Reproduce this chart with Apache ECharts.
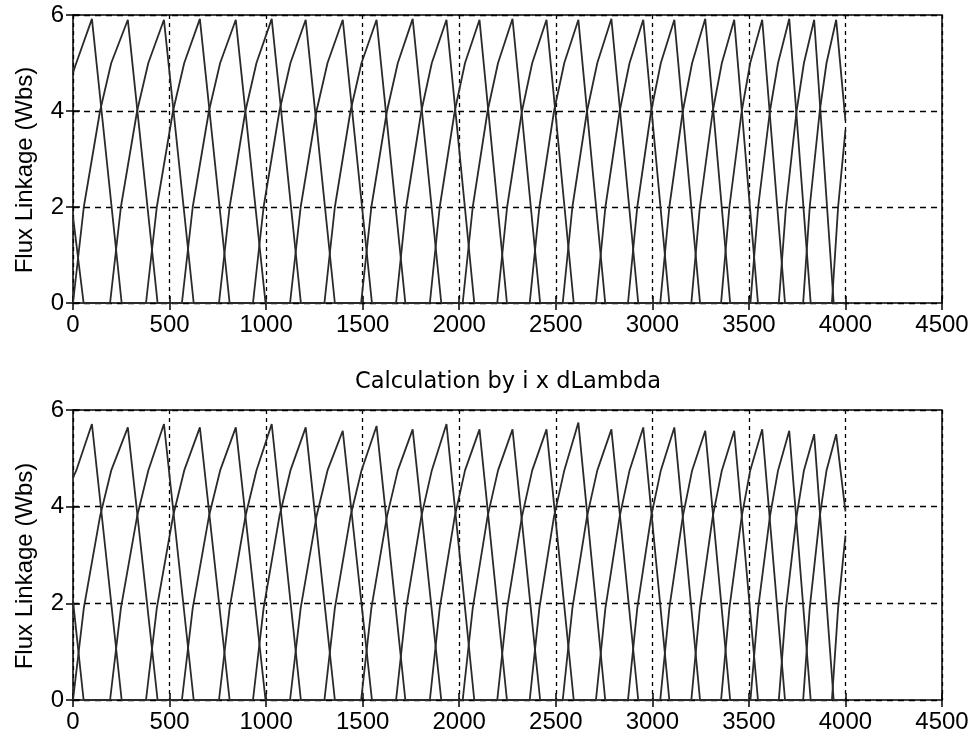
<!DOCTYPE html>
<html>
<head>
<meta charset="utf-8">
<script src="https://cdn.jsdelivr.net/npm/echarts@6/dist/echarts.min.js"></script>
<style>
  html, body { margin: 0; padding: 0; background: #fff; }
  #chart { width: 974px; height: 740px; }
</style>
</head>
<body>
<div id="chart"></div>
<script>
// Phase flux-linkage pulses (three phases, pulses alternate A, B, C).
// Index 0 is the tail of a C pulse that ends just after t = 0.
const riseStart = [-367, -181, 0, 192, 378, 564, 756, 932, 1124, 1302, 1492, 1673, 1848, 2018, 2197, 2365, 2536, 2708, 2874, 3041, 3202, 3356, 3508, 3655, 3781, 3930];
const riseAt2   = [-311, -125, 56, 248, 434, 620, 811, 987, 1179, 1356, 1545, 1725, 1899, 2070, 2248, 2415, 2586, 2757, 2922, 3088, 3246, 3399, 3548, 3692, 3815, 3962];
const riseAt4   = [-227, -41, 140, 332, 518, 704, 893, 1069, 1261, 1437, 1626, 1804, 1977, 2147, 2325, 2491, 2662, 2831, 2994, 3158, 3313, 3463, 3609, 3747, 3867, 4010];
const riseAt5   = [-169, 17, 198, 390, 576, 762, 950, 1126, 1318, 1494, 1682, 1858, 2030, 2201, 2378, 2544, 2715, 2882, 3044, 3206, 3360, 3507, 3651, 3785, 3902, 4040];
const peakTime  = [-88, 98, 284, 471, 657, 843, 1029, 1205, 1397, 1572, 1759, 1934, 2105, 2276, 2452, 2617, 2788, 2953, 3114, 3274, 3424, 3569, 3709, 3838, 3952, 4085];
const fallEnd   = [55, 252, 438, 625, 811, 997, 1180, 1356, 1548, 1721, 1907, 2078, 2247, 2419, 2593, 2756, 2927, 3088, 3247, 3403, 3547, 3687, 3820, 3939, 4060, 4180];
const pulsePhase = ['C', 'A', 'B', 'C', 'A', 'B', 'C', 'A', 'B', 'C', 'A', 'B', 'C', 'A', 'B', 'C', 'A', 'B', 'C', 'A', 'B', 'C', 'A', 'B', 'C', 'A'];

// Peak flux of every pulse
const peakTop    = [5.9, 5.92, 5.9, 5.9, 5.92, 5.9, 5.92, 5.9, 5.9, 5.9, 5.92, 5.9, 5.9, 5.92, 5.9, 5.9, 5.92, 5.9, 5.9, 5.92, 5.9, 5.9, 5.92, 5.9, 5.9, 5.9];
const peakBottom = [5.7, 5.71, 5.64, 5.71, 5.64, 5.64, 5.71, 5.64, 5.57, 5.67, 5.6, 5.71, 5.6, 5.6, 5.6, 5.74, 5.6, 5.64, 5.64, 5.57, 5.57, 5.6, 5.57, 5.5, 5.5, 5.5];

// Flux levels reached at riseAt2 / riseAt4 / riseAt5
const riseLevelsTop    = [2.0, 4.0, 5.0];
const riseLevelsBottom = [1.9, 3.8, 4.75];

// Flux of each phase at the first and last sample
const phases = ['A', 'B', 'C'];
const startTop    = [4.8, 0, 1.8];
const startBottom = [4.6, 0, 2.05];
const endTop      = [3.6, 0, 3.8];
const endBottom   = [3.4, 0, 3.9];
const tFirst = 0;
const tLast = 4000;

// Axis ticks
const xTicks = { min: 0, max: 4500, step: 500 };
const yTicks = { min: 0, max: 6, step: 2 };

const plotTitle = 'Calculation by i x dLambda';
const yName = 'Flux Linkage (Wbs)';

function phaseTrace(phaseIdx, levels, peaks, starts, ends) {
  const name = phases[phaseIdx];
  const pts = [[tFirst, starts[phaseIdx]]];
  for (let i = 0; i < pulsePhase.length; i++) {
    if (pulsePhase[i] !== name) continue;
    const verts = [
      [riseStart[i], 0],
      [riseAt2[i], levels[0]],
      [riseAt4[i], levels[1]],
      [riseAt5[i], levels[2]],
      [peakTime[i], peaks[i]],
      [fallEnd[i], 0]
    ];
    verts.forEach(v => { if (v[0] > tFirst && v[0] < tLast) pts.push(v); });
  }
  pts.push([tLast, ends[phaseIdx]]);
  return pts;
}

const FONT = 'Liberation Sans';
const TITLE_FONT = 'DejaVu Sans';
const lineColor = '#2a2a2a';

function makeXAxis(gridIndex, position, showLabels) {
  return {
    type: 'value', gridIndex, position,
    min: xTicks.min, max: xTicks.max, interval: xTicks.step,
    axisLine: { show: false },
    axisTick: { show: true, inside: true, length: 7, lineStyle: { color: '#000', width: 1.5 } },
    axisLabel: { show: showLabels, color: '#000', fontFamily: FONT, fontSize: 24, margin: 10,
                 formatter: v => String(v) },
    splitLine: { show: showLabels, lineStyle: { color: '#000', width: 1.3, type: [4, 4] } }
  };
}
function makeYAxis(gridIndex, position, showLabels) {
  return {
    type: 'value', gridIndex, position,
    min: yTicks.min, max: yTicks.max, interval: yTicks.step,
    name: showLabels ? yName : '',
    nameLocation: 'middle', nameGap: 36, nameRotate: 90,
    nameTextStyle: { color: '#000', fontFamily: FONT, fontSize: 24, padding: [0, 22, 0, 0] },
    axisLine: { show: false },
    axisTick: { show: true, inside: true, length: 7, lineStyle: { color: '#000', width: 1.5 } },
    axisLabel: { show: showLabels, color: '#000', fontFamily: FONT, fontSize: 24, margin: 9,
                 formatter: v => String(v) },
    splitLine: { show: showLabels, lineStyle: { color: '#000', width: 1.3, type: [6, 5] } }
  };
}

const series = [];
[0, 1, 2].forEach(p => {
  series.push({
    type: 'line', xAxisIndex: 0, yAxisIndex: 0, showSymbol: false, animation: false,
    lineStyle: { color: lineColor, width: 1.8 },
    data: phaseTrace(p, riseLevelsTop, peakTop, startTop, endTop)
  });
  series.push({
    type: 'line', xAxisIndex: 2, yAxisIndex: 2, showSymbol: false, animation: false,
    lineStyle: { color: lineColor, width: 1.8 },
    data: phaseTrace(p, riseLevelsBottom, peakBottom, startBottom, endBottom)
  });
});

const chart = echarts.init(document.getElementById('chart'), null, { renderer: 'canvas' });
chart.setOption({
  backgroundColor: '#fff',
  animation: false,
  title: {
    text: plotTitle, left: 503, top: 366, textAlign: 'center',
    textStyle: { color: '#000', fontFamily: TITLE_FONT, fontSize: 22.5, fontWeight: 'normal' }
  },
  grid: [
    { left: 73, top: 15, width: 869, height: 288, show: true, borderColor: '#000', borderWidth: 1.5, backgroundColor: '#fff' },
    { left: 73, top: 410, width: 869, height: 290, show: true, borderColor: '#000', borderWidth: 1.5, backgroundColor: '#fff' }
  ],
  xAxis: [
    makeXAxis(0, 'bottom', true), makeXAxis(0, 'top', false),
    makeXAxis(1, 'bottom', true), makeXAxis(1, 'top', false)
  ],
  yAxis: [
    makeYAxis(0, 'left', true), makeYAxis(0, 'right', false),
    makeYAxis(1, 'left', true), makeYAxis(1, 'right', false)
  ],
  series
});
</script>
</body>
</html>
